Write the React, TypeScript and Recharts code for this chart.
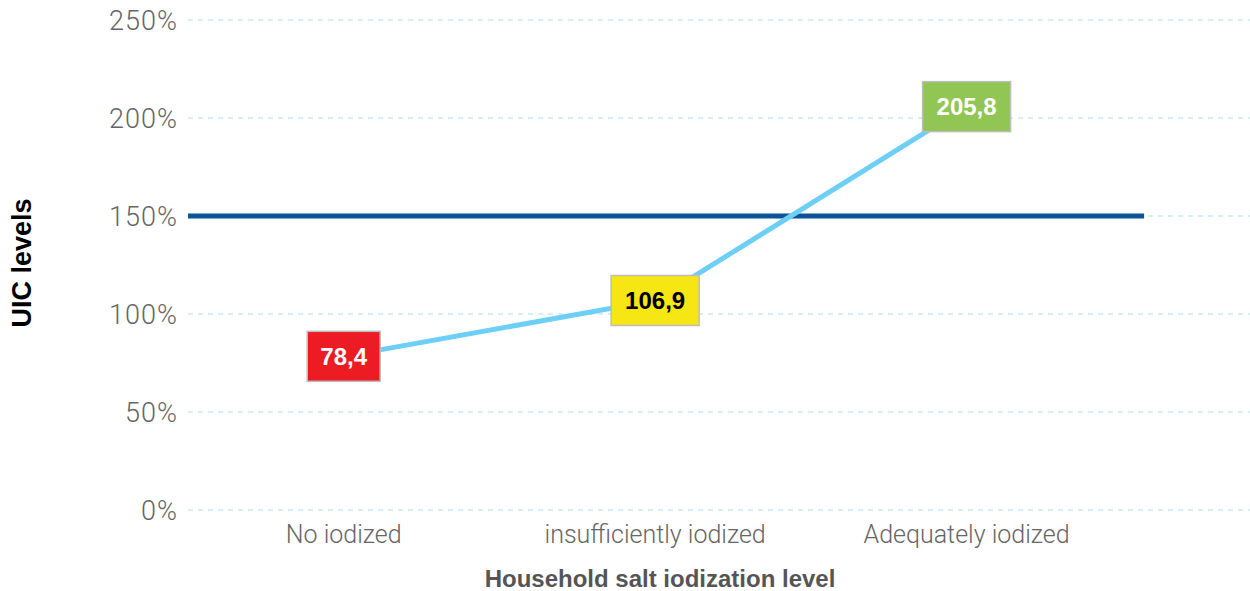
import { LineChart, Line, XAxis, YAxis, CartesianGrid, ReferenceLine, LabelList } from 'recharts';

const categories = ['No iodized', 'insufficiently iodized', 'Adequately iodized'];
const uicValues = [78.4, 106.9, 205.8];
const yTicks = [0, 50, 100, 150, 200, 250];
const threshold = 150;

const boxColors = ['#ED1C24', '#F5E614', '#92C654'];
const boxText = ['#FFFFFF', '#000000', '#FFFFFF'];

const data = categories.map((name, i) => ({ x: i, name, value: uicValues[i] }));

const fmt = (v: number) => v.toFixed(1).replace('.', ',');

function ValueBox(props: any) {
  const { x, y, value, index } = props;
  if (x == null || y == null) return null;
  const label = fmt(Number(value));
  const w = label.length * 15 + 13;
  const h = 50;
  return (
    <g>
      <rect x={x - w / 2} y={y - h / 2} width={w} height={h} fill={boxColors[index]} stroke="#BDBDBD" strokeWidth={1.5} />
      <text
        x={x}
        y={y}
        dy="0.36em"
        textAnchor="middle"
        fontFamily="'Liberation Sans', Arial, sans-serif"
        fontWeight="bold"
        fontSize={24}
        fill={boxText[index]}
      >
        {label}
      </text>
    </g>
  );
}

const XTitle = () => (
  <text x={660} y={587} textAnchor="middle" fontFamily="'Liberation Sans', Arial, sans-serif" fontWeight="bold" fontSize={24} fill="#555555">
    Household salt iodization level
  </text>
);

const YTitle = () => (
  <text
    x={31}
    y={263}
    transform="rotate(-90 31 263)"
    textAnchor="middle"
    fontFamily="'Liberation Sans', Arial, sans-serif"
    fontWeight="bold"
    fontSize={27}
    fill="#000000"
  >
    UIC levels
  </text>
);

export default function App() {
  return (
    <div style={{ position: 'absolute', left: 0, top: 0, background: '#fff' }}>
      <LineChart width={1250} height={591} data={data} margin={{ top: 20, right: 0, left: 0, bottom: 0 }}>
        <CartesianGrid vertical={false} stroke="#C6E9F9" strokeDasharray="5 5" strokeWidth={1.5} />
        <XAxis
          dataKey="x"
          type="number"
          domain={[-0.5, 2.91]}
          ticks={[0, 1, 2]}
          allowDataOverflow
          tickFormatter={(v: number) => categories[v] ?? ''}
          axisLine={false}
          tickLine={false}
          tickSize={0}
          tickMargin={15}
          height={81}
          tick={{ fontFamily: 'Roboto', fontWeight: 300, fontSize: 25, fill: '#666666' }}
          label={<XTitle />}
        />
        <YAxis
          domain={[0, 250]}
          ticks={yTicks}
          tickFormatter={(v: number) => `${v}%`}
          axisLine={false}
          tickLine={false}
          tickSize={0}
          tickMargin={10}
          width={188}
          tick={{ fontFamily: 'Roboto', fontWeight: 300, fontSize: 27, fill: '#666666', letterSpacing: 1 }}
          label={<YTitle />}
        />
        <ReferenceLine
          segment={[
            { x: -0.5, y: threshold },
            { x: 2.57, y: threshold },
          ]}
          stroke="#0B5394"
          strokeWidth={5}
        />
        <Line type="linear" dataKey="value" stroke="#6DCFF6" strokeWidth={5} dot={false} isAnimationActive={false}>
          <LabelList dataKey="value" content={<ValueBox />} />
        </Line>
      </LineChart>
    </div>
  );
}
